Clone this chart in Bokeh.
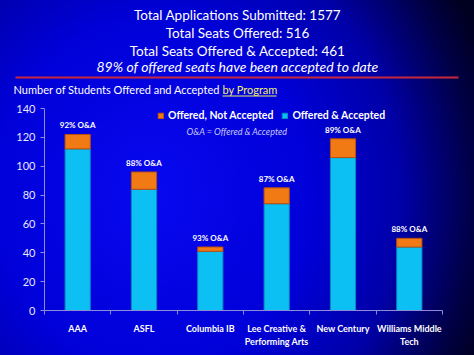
from bokeh.plotting import figure
from bokeh.models import (Range1d, ColumnDataSource, Legend, LegendItem, Label,
                          LinearAxis, FixedTicker, CustomJSTickFormatter)
from bokeh.layouts import column
from bokeh.core.properties import value
from bokeh.embed import file_html
from bokeh.resources import INLINE

# ---- data ----
programs = ["AAA", "ASFL", "Columbia IB", "Lee Creative &\nPerforming Arts",
            "New Century", "Williams Middle\nTech"]
accepted = [112, 84, 41, 74, 106, 44]
not_accepted = [10, 12, 3, 11, 13, 6]
title_lines = ["Total Applications Submitted: 1577",
               "Total Seats Offered: 516",
               "Total Seats Offered & Accepted: 461"]
italic_line = "89% of offered seats have been accepted to date"
subtitle = "Number of Students Offered and Accepted "
subtitle_link = "by Program"
series_names = ["Offered, Not Accepted", "Offered & Accepted"]
y_ticks = [0, 20, 40, 60, 80, 100, 120, 140]

FONT = "Lato"
CYAN = "#0cc0f4"
ORANGE = "#f27a14"

offered = [a + n for a, n in zip(accepted, not_accepted)]
pct_labels = ["%d%% O&A" % round(a * 100 / o) for a, o in zip(accepted, offered)]
xs = [i + 0.5 for i in range(len(programs))]

# ---- header figure ----
top = figure(width=474, height=100, x_range=Range1d(0, 474), y_range=Range1d(100, 0),
             toolbar_location=None, output_backend="svg", min_border=0,
             x_axis_type=None, y_axis_type=None, frame_align=False)
top.grid.visible = False
top.outline_line_color = None
top.background_fill_color = None
top.border_fill_color = None

top.text(x=[237] * 3, y=[14, 32, 50], text=title_lines, text_align="center",
         text_baseline="middle", text_color="white", text_font=value(FONT),
         text_font_size="13.5px")
top.text(x=[237], y=[66], text=[italic_line], text_align="center",
         text_baseline="middle", text_color="white", text_font=value(FONT),
         text_font_size="14px", text_font_style="italic")
top.segment(x0=[15], y0=[77], x1=[458], y1=[77], line_color="#c8283c", line_width=2)
top.text(x=[13], y=[89], text=[subtitle], text_align="left", text_baseline="middle",
         text_color="white", text_font=value(FONT), text_font_size="11px")
top.text(x=[222], y=[89], text=[subtitle_link], text_align="left", text_baseline="middle",
         text_color="#f0f070", text_font=value(FONT), text_font_size="11px")
top.segment(x0=[222], y0=[95.5], x1=[276], y1=[95.5], line_color="#f0f070", line_width=1)

# ---- main chart ----
src = ColumnDataSource(dict(x=xs, accepted=accepted, not_accepted=not_accepted,
                            offered=offered, pct=pct_labels))

p = figure(width=474, height=255, x_range=Range1d(0, len(programs)),
           y_range=Range1d(0, 140), toolbar_location=None, output_backend="svg",
           min_border_top=8, min_border_bottom=45, min_border_left=44,
           min_border_right=32, x_axis_type=None, y_axis_type=None, frame_align=False)
p.grid.visible = False
p.outline_line_color = None
p.background_fill_color = None
p.border_fill_color = None

rs = p.vbar_stack(["accepted", "not_accepted"], x="x", width=0.38, source=src,
                  fill_color=[CYAN, ORANGE], line_color=["#0a86c0", "#b8500c"],
                  line_width=1)

p.text(x="x", y="offered", text="pct", source=src, text_align="center",
       text_baseline="bottom", y_offset=-4, text_color="white",
       text_font=value(FONT), text_font_size="8px", text_font_style="bold")

yaxis = LinearAxis(ticker=FixedTicker(ticks=y_ticks, minor_ticks=[]))
yaxis.axis_line_color = "#8c8cd8"
yaxis.major_tick_line_color = "#8c8cd8"
yaxis.major_tick_out = 4
yaxis.major_tick_in = 0
yaxis.minor_tick_line_color = None
yaxis.major_label_text_color = "#e8e8ff"
yaxis.major_label_text_font = FONT
yaxis.major_label_text_font_size = "11px"
yaxis.major_label_standoff = 5
p.add_layout(yaxis, "left")

xaxis = LinearAxis(ticker=FixedTicker(ticks=xs, minor_ticks=list(range(len(programs) + 1))),
                   formatter=CustomJSTickFormatter(args=dict(labels=programs),
                                                   code="return labels[Math.floor(tick)]"))
xaxis.axis_line_color = "#8c8cd8"
xaxis.major_tick_line_color = None
xaxis.minor_tick_line_color = "#8c8cd8"
xaxis.minor_tick_out = 4
xaxis.minor_tick_in = 0
xaxis.major_label_text_color = "white"
xaxis.major_label_text_font = FONT
xaxis.major_label_text_font_size = "9px"
xaxis.major_label_text_font_style = "bold"
xaxis.major_label_standoff = 6
p.add_layout(xaxis, "below")

legend = Legend(items=[LegendItem(label=series_names[0], renderers=[rs[1]]),
                       LegendItem(label=series_names[1], renderers=[rs[0]])],
                orientation="horizontal", location=(113, 189), padding=0, margin=0,
                spacing=8, glyph_width=7, glyph_height=7, label_height=12,
                label_standoff=4, label_text_color="white", label_text_font=FONT,
                label_text_font_size="10.5px", label_text_font_style="bold",
                background_fill_alpha=0, border_line_color=None)
p.add_layout(legend, "center")

p.add_layout(Label(x=2.14, y=124, text="O&A = Offered & Accepted", text_color="#c8c8f4",
                   text_font=FONT, text_font_size="9px", text_font_style="italic",
                   text_baseline="middle"))
p.add_layout(Label(x=6.36, y=-21, text="8", text_color="#8080b8", text_font=FONT,
                   text_font_size="8px", text_baseline="middle"))

layout = column(top, p, width=474, height=355, spacing=0,
                styles={"background": "radial-gradient(ellipse 75% 110% at 32% 55%, "
                                      "#0808f0 0%, #0000d8 45%, #0000a8 70%, "
                                      "#000048 90%, #000020 100%)"})

open("out.html", "w").write(file_html(layout, INLINE))
